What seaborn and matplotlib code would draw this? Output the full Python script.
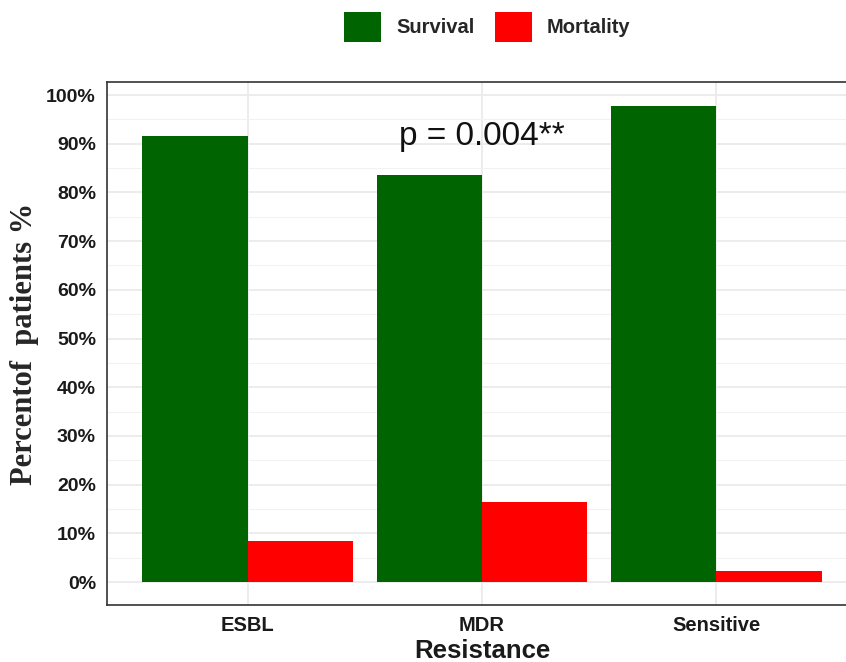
import numpy as np
import pandas as pd
import matplotlib
matplotlib.use("Agg")
import matplotlib.pyplot as plt
import matplotlib.patches as mpatches
from matplotlib.ticker import PercentFormatter, MultipleLocator
import seaborn as sns

# data
resistance = ["ESBL", "MDR", "Sensitive"]
survival = [0.915, 0.835, 0.978]
mortality = [0.085, 0.165, 0.022]
outcomes = ["Survival", "Mortality"]
colors = {"Survival": "#006400", "Mortality": "#FF0000"}

df = pd.DataFrame({
    "Resistance": resistance * 2,
    "Percent": survival + mortality,
    "Outcome": ["Survival"] * 3 + ["Mortality"] * 3,
})

sns.set_style("white")
plt.rcParams["font.family"] = ["Liberation Sans", "DejaVu Sans"]

fig = plt.figure(figsize=(8.46, 6.62), dpi=100)
# panel runs off the right edge like in the original
ax = fig.add_axes([107 / 846, 57 / 662, 750 / 846, 523 / 662])

sns.barplot(data=df, x="Resistance", y="Percent", hue="Outcome",
            hue_order=outcomes, palette=colors, width=0.9, saturation=1,
            linewidth=0, ax=ax, legend=False, zorder=3)

ax.set_xlim(-0.6, 2.6)
ax.set_ylim(-0.0472, 1.0267)
ax.yaxis.set_major_locator(MultipleLocator(0.1))
ax.yaxis.set_minor_locator(MultipleLocator(0.05))
ax.yaxis.set_major_formatter(PercentFormatter(1, decimals=0))

ax.grid(True, which="major", color="#EBEBEB", linewidth=1.3, zorder=0)
ax.grid(True, which="minor", axis="y", color="#F2F2F2", linewidth=0.8, zorder=0)
ax.set_axisbelow(True)

for s in ax.spines.values():
    s.set_color("#333333")
    s.set_linewidth(1.2)

ax.tick_params(axis="both", which="major", length=5, width=1.1,
               color="#333333", pad=3)
ax.tick_params(axis="x", labelsize=14.5)
ax.tick_params(axis="y", labelsize=14)
ax.tick_params(axis="y", which="minor", length=0)
for lab in ax.get_xticklabels() + ax.get_yticklabels():
    lab.set_fontweight("bold")
    lab.set_color("#1a1a1a")

ax.set_xlabel("Resistance", fontsize=18.5, fontweight="bold", color="#1a1a1a", labelpad=3)
ax.set_ylabel("Percentof  patients %", fontsize=22, fontweight="bold",
              family=["Liberation Serif", "DejaVu Serif"], labelpad=5)

ax.text(1, 0.915, "p = 0.004**", ha="center", va="center", fontsize=24, color="#111111")

handles = [mpatches.Patch(facecolor=colors[o], edgecolor="none", label=o) for o in outcomes]
leg = fig.legend(handles=handles, loc="center", bbox_to_anchor=(0.576, 1 - 27 / 662),
                 ncol=2, frameon=False, handlelength=1.85, handleheight=1.85,
                 handletextpad=0.75, columnspacing=1.0,
                 prop={"weight": "bold", "size": 14.5})

fig.savefig("out.png", dpi=100)
